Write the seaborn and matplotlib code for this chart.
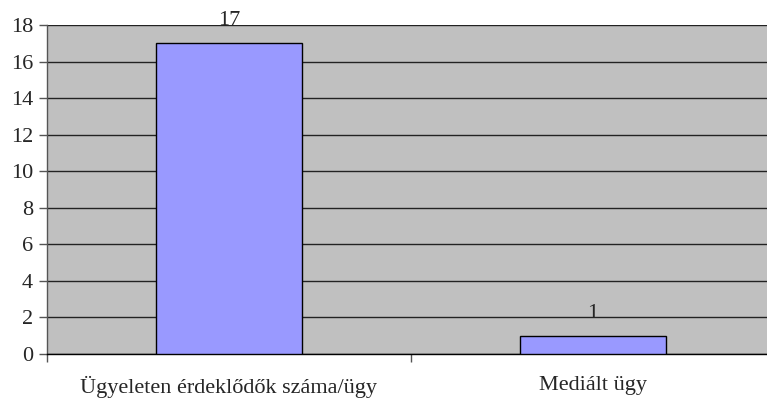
import matplotlib
matplotlib.use('Agg')
import matplotlib.pyplot as plt
import seaborn as sns
import pandas as pd

categories = ['Ügyeleten érdeklődők száma/ügy', 'Mediált ügy']
values = [17, 1]
y_ticks = [0, 2, 4, 6, 8, 10, 12, 14, 16, 18]

df = pd.DataFrame({'category': categories, 'value': values})

sns.set_style('white')
plt.rcParams['font.family'] = ['Liberation Serif', 'DejaVu Serif']

fig = plt.figure(figsize=(7.67, 4.01), dpi=100)
# plot area runs past the right edge of the image, as in the original
ax = fig.add_axes([47 / 767, (401 - 354) / 401, 728 / 767, 329 / 401])
ax.set_facecolor('#C0C0C0')

sns.barplot(data=df, x='category', y='value', color='#9999FF', width=0.4,
            edgecolor='black', linewidth=1, saturation=1, ax=ax, zorder=3)

ax.set_xlim(-0.5, 1.5)
ax.set_ylim(0, 18)
ax.set_yticks(y_ticks)
ax.yaxis.grid(True, color='#222222', linewidth=1)
ax.set_axisbelow(True)

for i, v in enumerate(values):
    ax.text(i, v + 0.7, str(v), ha='center', va='bottom', fontsize=16, zorder=4)

ax.set_xlabel('')
ax.set_ylabel('')
ax.set_xticks([-0.5, 0.5, 1.5], minor=False)
ax.set_xticklabels(['', '', ''])
ax.set_xticks([0, 1], minor=True)
ax.set_xticklabels(categories, minor=True)
ax.tick_params(axis='x', which='major', length=6, color='#555555', width=1, direction='out')
ax.tick_params(axis='x', which='minor', length=0, pad=16, labelsize=16)
ax.tick_params(axis='y', length=6, color='#555555', width=1, direction='out', labelsize=16, pad=4)
ax.tick_params(bottom=True, left=True)

for side in ['top', 'right']:
    ax.spines[side].set_visible(False)
ax.spines['left'].set_color('#555555')
ax.spines['bottom'].set_color('black')
ax.spines['left'].set_linewidth(1)
ax.spines['bottom'].set_linewidth(1)

fig.savefig('out.png', dpi=100)
